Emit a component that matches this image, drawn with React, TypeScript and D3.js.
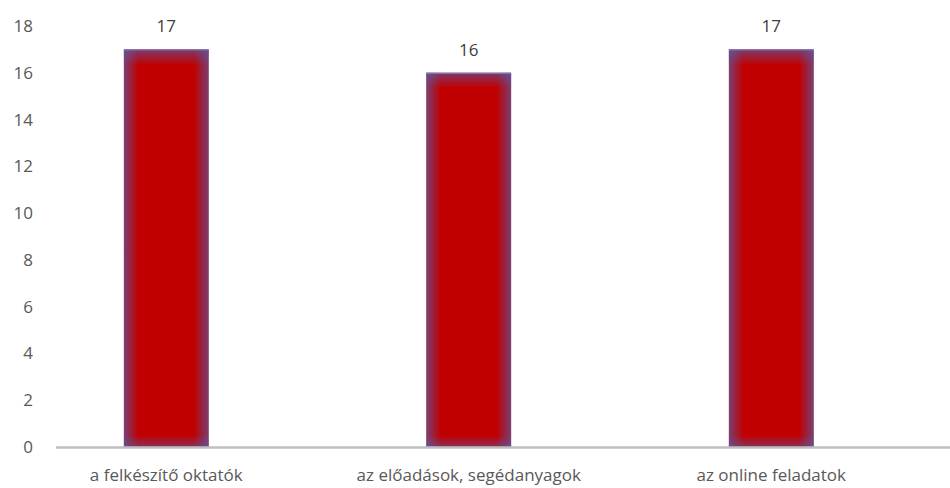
import { useEffect, useRef } from "react";
import * as d3 from "d3";

const categories = ["a felkészítő oktatók", "az előadások, segédanyagok", "az online feladatok"];
const values = [17, 16, 17];
const yTicks = [0, 2, 4, 6, 8, 10, 12, 14, 16, 18];

const W = 950;
const H = 488;
const FONT = "'Open Sans', 'Liberation Sans', sans-serif";

export default function App() {
  const svgRef = useRef<SVGSVGElement>(null);

  useEffect(() => {
    if (!svgRef.current) return;
    const svg = d3.select(svgRef.current);
    svg.selectAll("*").remove();

    const y = d3.scaleLinear().domain([0, 18]).range([447, 26]);
    const x = d3.scaleBand<string>().domain(categories).range([15, 922.5]).paddingInner(0.72).paddingOuter(0.36);

    const defs = svg.append("defs");
    // inner glow: horizontal and vertical edge fades
    const gh = defs.append("linearGradient").attr("id", "glowH").attr("x1", 0).attr("x2", 1).attr("y1", 0).attr("y2", 0);
    [[0, 0.7], [0.17, 0.0], [0.83, 0.0], [1, 0.7]].forEach(([o, a]) =>
      gh.append("stop").attr("offset", o).attr("stop-color", "#5a5aa6").attr("stop-opacity", a));
    const gv = defs.append("linearGradient").attr("id", "glowV").attr("x1", 0).attr("x2", 0).attr("y1", 0).attr("y2", 1);
    [[0, 0.65], [0.04, 0.0], [0.97, 0.0], [1, 0.55]].forEach(([o, a]) =>
      gv.append("stop").attr("offset", o).attr("stop-color", "#5a5aa6").attr("stop-opacity", a));

    // axis labels
    svg.append("g")
      .selectAll("text")
      .data(yTicks)
      .join("text")
      .attr("x", 33)
      .attr("y", (d) => y(d))
      .attr("dy", "0.35em")
      .attr("text-anchor", "end")
      .attr("fill", "#595959")
      .attr("font-size", 17)
      .attr("font-family", FONT)
      .text((d) => d);

    const bars = svg.append("g");
    categories.forEach((c, i) => {
      const bx = x(c)!;
      const bw = x.bandwidth();
      const by = y(values[i]);
      const bh = y(0) - by;
      bars.append("rect").attr("x", bx).attr("y", by).attr("width", bw).attr("height", bh).attr("fill", "#c00000");
      bars.append("rect").attr("x", bx).attr("y", by).attr("width", bw).attr("height", bh).attr("fill", "url(#glowH)");
      bars.append("rect").attr("x", bx).attr("y", by).attr("width", bw).attr("height", bh).attr("fill", "url(#glowV)");
      bars.append("line").attr("x1", bx).attr("x2", bx + bw).attr("y1", by + 0.5).attr("y2", by + 0.5)
        .attr("stroke", "#7f86c0").attr("stroke-width", 1);

      svg.append("text")
        .attr("x", bx + bw / 2)
        .attr("y", by - 17)
        .attr("text-anchor", "middle")
        .attr("fill", "#404040")
        .attr("font-size", 17)
        .attr("font-family", FONT)
        .text(values[i]);

      svg.append("text")
        .attr("x", bx + bw / 2)
        .attr("y", 481)
        .attr("text-anchor", "middle")
        .attr("fill", "#595959")
        .attr("font-size", 17)
        .attr("font-family", FONT)
        .text(c);
    });

    svg.append("line")
      .attr("x1", 56).attr("x2", 950)
      .attr("y1", y(0) + 0.5).attr("y2", y(0) + 0.5)
      .attr("stroke", "#bfbfbf").attr("stroke-width", 2.5);
  }, []);

  return (
    <div style={{ position: "fixed", left: 0, top: 0, width: W, height: H, overflow: "hidden" }}>
      <svg ref={svgRef} width={W} height={H} style={{ display: "block", background: "#fff" }} />
    </div>
  );
}
